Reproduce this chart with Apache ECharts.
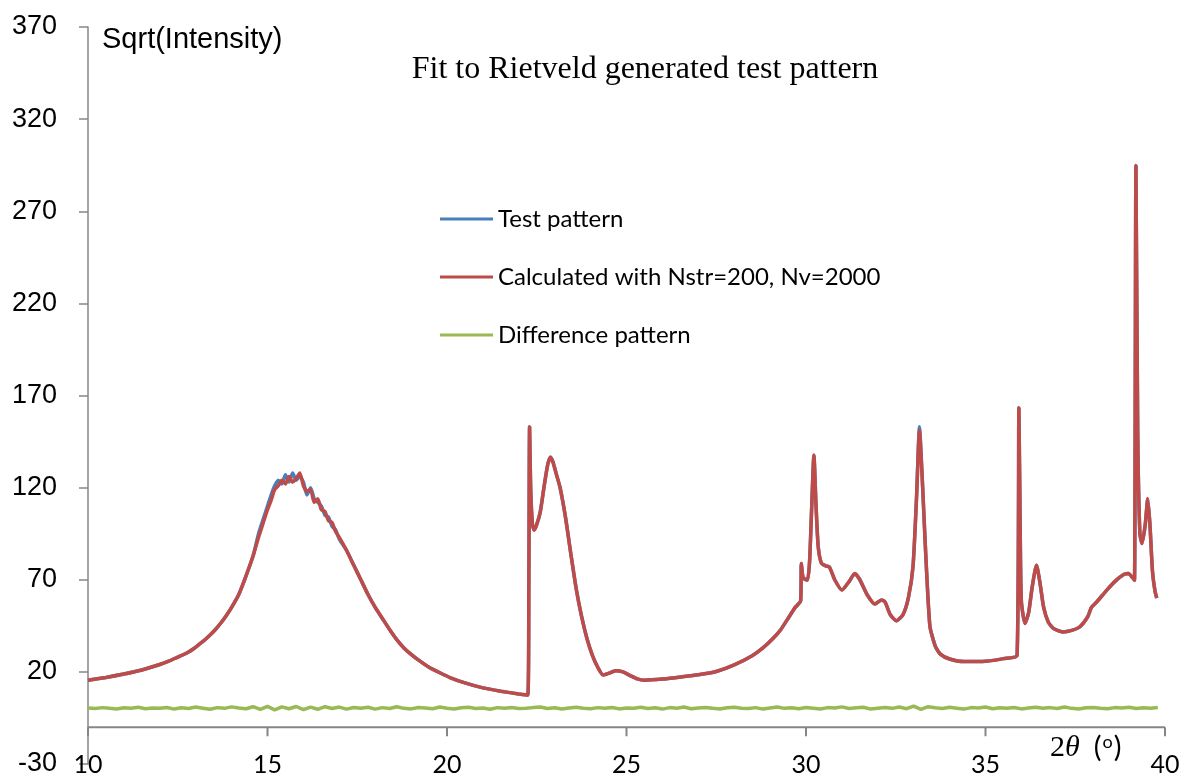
<!DOCTYPE html>
<html>
<head>
<meta charset="utf-8">
<title>Fit to Rietveld generated test pattern</title>
<script src="https://cdn.jsdelivr.net/npm/echarts@6/dist/echarts.min.js"></script>
<style>
    html, body { margin: 0; padding: 0; background: #fff; }
    #chart { width: 1186px; height: 782px; }
</style>
</head>
<body>
<div id="chart"></div>
<script>
// 2theta positions (deg) for the test and calculated patterns
const twoTheta = [
    10.0, 10.5, 11.0, 11.5, 12.0, 12.25, 12.5, 12.65, 12.8, 12.95,
    13.1, 13.25, 13.4, 13.55, 13.7, 13.85,
    14.0, 14.2, 14.4, 14.6, 14.75, 14.9, 15.0, 15.1, 15.2, 15.3,
    15.4, 15.5, 15.6, 15.7, 15.8, 15.9, 16.0, 16.1, 16.2, 16.3,
    16.4, 16.5, 16.6, 16.7, 16.8, 16.9, 17.0, 17.2, 17.4, 17.6,
    17.8, 18.0, 18.2, 18.4, 18.6, 18.8, 19.0, 19.2, 19.5, 19.8,
    20.1, 20.5, 21.0, 21.5, 22.0, 22.25, 22.28, 22.3, 22.33, 22.38,
    22.43, 22.5, 22.6, 22.7, 22.8, 22.88, 22.95, 23.05, 23.15, 23.3,
    23.45, 23.6, 23.75, 23.9, 24.05, 24.2, 24.35, 24.5, 24.7, 24.9,
    25.1, 25.3, 25.5, 26.0, 26.5, 27.0, 27.5, 28.0, 28.5, 28.8,
    29.1, 29.3, 29.5, 29.7, 29.85, 29.87, 29.92, 30.04, 30.1, 30.16,
    30.22, 30.28, 30.34, 30.43, 30.55, 30.65, 30.8, 31.0, 31.2, 31.36,
    31.5, 31.7, 31.92, 32.1, 32.2, 32.35, 32.52, 32.7, 32.85, 32.98,
    33.08, 33.16, 33.25, 33.32, 33.45, 33.6, 33.75, 34.0, 34.4, 35.0,
    35.5, 35.88, 35.93, 35.97, 36.0, 36.1, 36.2, 36.3, 36.42, 36.52,
    36.62, 36.75, 36.9, 37.15, 37.4, 37.63, 37.85, 37.95, 38.1, 38.38,
    38.6, 38.85, 38.98, 39.1, 39.15, 39.19, 39.24, 39.3, 39.36, 39.45,
    39.52, 39.58, 39.65, 39.72, 39.77
];

const testPattern = [
    15.5, 17, 18.8, 21, 24, 25.8, 28, 29.3, 30.8, 32.7,
    35, 37.3, 40, 43, 46.5, 50.5,
    55, 62, 72, 83, 95, 104, 110, 116, 121, 124,
    122, 127, 123, 128, 124, 126, 123, 116, 120, 114,
    112, 110, 105, 104, 99, 97, 92, 86, 78, 70,
    62, 55, 49, 43, 37.5, 33, 29.5, 26.5, 22.5, 19.5,
    16.8, 14, 11.3, 9.5, 8, 7.4, 70, 153, 120, 100,
    97, 100, 107, 120, 132, 136.5, 134, 127, 120, 104,
    84, 65, 50, 38, 29, 22.5, 18.3, 19.2, 20.6, 20,
    18, 16.2, 15.5, 16.1, 17.2, 18.4, 20.2, 23.8, 28.8, 33,
    38.5, 43, 49, 55, 58.5, 78.8, 71, 69.8, 80, 110,
    137.6, 110, 88, 79, 77.5, 77, 70, 64.4, 69, 73.4,
    70, 62, 56.8, 59, 58, 51, 47.7, 51, 60, 77,
    115, 153, 120, 90, 45, 34, 29.5, 27, 25.6, 25.8,
    27.2, 29, 163.4, 90, 58, 46.3, 52, 66, 77.9, 68,
    55, 47, 43.5, 41.7, 42.5, 44.5, 50, 55, 58, 64.4,
    69, 72.8, 73.4, 71, 69.8, 294.8, 150, 95, 89.7, 100,
    114, 100, 75, 64, 60
];

const calcPattern = [
    15.5, 17, 18.8, 21, 24, 25.8, 28, 29.3, 30.8, 32.7,
    35, 37.3, 40, 43, 46.5, 50.5,
    55, 62, 72, 83, 93, 102, 108, 113, 119, 121,
    124, 122, 126, 123, 125, 128, 121, 118, 119, 112,
    114, 108, 107, 102, 101, 96, 93, 86, 78, 70,
    62, 55, 49, 43, 37.5, 33, 29.5, 26.5, 22.5, 19.5,
    16.8, 14, 11.3, 9.5, 8, 7.4, 70, 153, 120, 100,
    97, 100, 107, 120, 132, 136.5, 134, 127, 120, 104,
    84, 65, 50, 38, 29, 22.5, 18.3, 19.2, 20.6, 20,
    18, 16.2, 15.5, 16.1, 17.2, 18.4, 20.2, 23.8, 28.8, 33,
    38.5, 43, 49, 55, 58.5, 78.8, 71, 69.8, 80, 110,
    137.6, 110, 88, 79, 77.5, 77, 70, 64.4, 69, 73.4,
    70, 62, 56.8, 59, 58, 51, 47.7, 51, 60, 77,
    115, 151, 120, 90, 45, 34, 29.5, 27, 25.6, 25.8,
    27.2, 29, 163.4, 90, 58, 46.3, 52, 66, 77.9, 68,
    55, 47, 43.5, 41.7, 42.5, 44.5, 50, 55, 58, 64.4,
    69, 72.8, 73.4, 71, 69.8, 294.8, 150, 95, 89.7, 100,
    114, 100, 75, 64, 60
];

// difference pattern, read every 0.2 deg starting at 10.0
const diffStart = 10.0;
const diffStep = 0.2;
const diffPattern = [
    0.4, 0.1, 0.6, 0.2, -0.1, 0.5, 0.3, 0.8, 0.0, 0.4,
    0.2, 0.7, -0.2, 0.5, 0.1, 0.9, 0.3, -0.3, 0.6, 0.2,
    1.0, 0.4, 0.0,
    1.1, -0.4, 1.3, -0.6, 1.0, 0.0, 1.2, -0.5, 0.9, -0.3,
    1.1, 0.1, 0.9, -0.2, 0.7,
    0.3, 0.8, -0.2, 0.6, 0.1, 1.1, 0.2, -0.1, 0.7, 0.4,
    0.0, 0.9, 0.3, -0.2, 0.5, 0.8, 0.1, 0.4, -0.3, 0.6,
    0.2, 0.7, 0.1,
    0.2, 0.6, 0.9, 0.1, 0.5, -0.2, 0.4, 0.8, 0.3, 0.0,
    0.6, 0.2, 0.7, -0.1, 0.4, 0.3, 0.8, 0.1, 0.5, -0.2,
    0.6, 0.3, 0.9, 0.0, 0.4, 0.7, 0.2, -0.1, 0.5, 0.8,
    0.3, 0.1, 0.6, -0.2, 0.4, 0.9, 0.2, 0.5, 0.0, 0.7,
    0.3, -0.1, 0.6, 0.4, 1.0, 0.1, 0.5, 0.8, -0.2, 0.3,
    0.7, 0.2, 0.9, 0.0,
    1.4, -0.3, 1.1,
    0.5, 0.1, 0.8, 0.3, -0.2, 0.6, 0.4, 0.9, 0.0, 0.5,
    0.2, 0.7, -0.1, 0.4, 0.8, 0.3, 0.6, 0.1, 0.9, 0.2,
    -0.2, 0.5, 0.7, 0.3, 0.0, 0.6, 0.4, 0.8, 0.1, 0.5,
    0.3, 0.6
];

// horizontal axis: ticks, where Excel lets it cross the y axis, tick depth in y units
const xTicks = [10, 15, 20, 25, 30, 35, 40];
const xAxisCross = -10;
const xTickDepth = 5;

const seriesNames = ['Test pattern', 'Calculated with Nstr=200, Nv=2000', 'Difference pattern'];
const seriesColors = ['#4A7EBB', '#BE4B48', '#98B954'];

const chart = echarts.init(document.getElementById('chart'));

const testData = twoTheta.map((x, i) => [x, testPattern[i]]);
const calcData = twoTheta.map((x, i) => [x, calcPattern[i]]);
const diffData = diffPattern.map((v, i) => [+(diffStart + i * diffStep).toFixed(2), v]);

// crossing axis drawn as a plain line through the chart's own scales
const axisLineData = [[xTicks[0], xAxisCross], [xTicks[xTicks.length - 1], xAxisCross]];
const axisTickData = [];
xTicks.forEach(t => {
    axisTickData.push([t, xAxisCross], [t, xAxisCross - xTickDepth], '-');
});

const axisGray = '#868686';

function lineSeries(idx, data, smooth) {
    return {
        name: seriesNames[idx],
        type: 'line',
        data: data,
        symbol: 'none',
        smooth: smooth,
        lineStyle: { color: seriesColors[idx], width: 3.5 },
        itemStyle: { color: seriesColors[idx] },
    };
}

function axisSeries(name, data) {
    return {
        name: name,
        type: 'line',
        data: data,
        symbol: 'none',
        silent: true,
        connectNulls: false,
        clip: false,
        z: 1,
        lineStyle: { color: axisGray, width: 2 },
        itemStyle: { color: axisGray },
        emphasis: { disabled: true },
        tooltip: { show: false },
    };
}

const option = {
    animation: false,
    backgroundColor: '#fff',
    grid: { left: 88, right: 21, top: 27, bottom: 18 },
    legend: {
        orient: 'vertical',
        left: 435,
        top: 202,
        icon: 'rect',
        itemWidth: 53,
        itemHeight: 3,
        itemGap: 34,
        data: seriesNames,
        textStyle: {
            fontFamily: 'Lato',
            fontSize: 24,
            color: '#000',
            lineHeight: 24,
        },
    },
    xAxis: {
        type: 'value',
        min: 10,
        max: 40,
        interval: 5,
        offset: -37,
        axisLine: { show: false, onZero: false },
        axisTick: { show: false },
        axisLabel: {
            margin: 25,
            fontFamily: 'Lato',
            fontSize: 25,
            color: '#000',
        },
        splitLine: { show: false },
    },
    yAxis: {
        type: 'value',
        min: -30,
        max: 370,
        interval: 50,
        axisLine: { show: true, lineStyle: { color: axisGray, width: 1.5 } },
        axisTick: { show: true, length: 9, lineStyle: { color: axisGray, width: 1.5 } },
        axisLabel: {
            margin: 31,
            fontFamily: 'Liberation Sans',
            fontSize: 27,
            color: '#000',
        },
        splitLine: { show: false },
    },
    graphic: [
        {
            type: 'text',
            x: 645,
            y: 70,
            style: {
                text: 'Fit to Rietveld generated test pattern',
                fontFamily: 'Liberation Serif',
                fontSize: 32,
                fill: '#000',
                align: 'center',
                verticalAlign: 'middle',
            },
        },
        {
            type: 'text',
            x: 102,
            y: 40,
            style: {
                text: 'Sqrt(Intensity)',
                fontFamily: 'Liberation Sans',
                fontSize: 29,
                fill: '#000',
                align: 'left',
                verticalAlign: 'middle',
            },
        },
        {
            type: 'text',
            x: 1050,
            y: 748,
            style: {
                text: '{n|2}{t|θ}{s| }{p|(}{o|o}{p|)}',
                align: 'left',
                verticalAlign: 'middle',
                rich: {
                    n: { fontFamily: 'Liberation Serif', fontSize: 30, fill: '#000' },
                    t: { fontFamily: 'Liberation Serif', fontStyle: 'italic', fontSize: 30, fill: '#000' },
                    s: { fontFamily: 'Liberation Serif', fontSize: 30, fill: '#000', width: 14 },
                    p: { fontFamily: 'Lato', fontSize: 29, fill: '#000' },
                    o: { fontFamily: 'Lato', fontSize: 18, fill: '#000', verticalAlign: 'top', padding: [0, 1, 12, 1] },
                },
            },
        },
    ],
    series: [
        axisSeries('x axis line', axisLineData),
        axisSeries('x axis ticks', axisTickData),
        lineSeries(0, testData, 0.2),
        lineSeries(1, calcData, 0.2),
        lineSeries(2, diffData, false),
    ],
};

chart.setOption(option);
</script>
</body>
</html>
